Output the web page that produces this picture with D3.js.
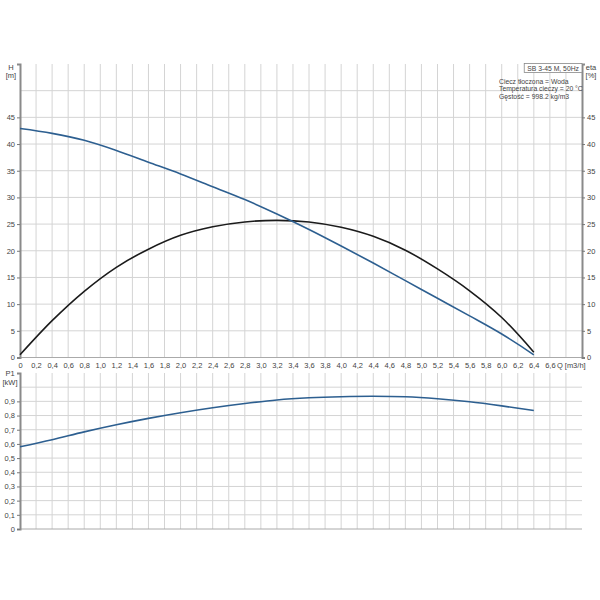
<!DOCTYPE html>
<html>
<head>
<meta charset="utf-8">
<script src="https://cdn.jsdelivr.net/npm/d3@7"></script>
<style>
  body { margin: 0; background: #fff; }
  svg { display: block; font-family: "Liberation Sans", Arial, sans-serif; }
  .grid line { stroke: #d4d4d4; stroke-width: 1; }
  .lbl { font-size: 7.5px; fill: #444; }
  .info { font-size: 6.8px; }
</style>
</head>
<body>
<svg id="chart" width="600" height="600"></svg>
<script>
// flow points [m3/h]
var qValues = [0, 0.4, 0.8, 1.2, 1.6, 2.0, 2.4, 2.8, 3.2, 3.6, 4.0, 4.4, 4.8, 5.2, 5.6, 6.0, 6.4];
// head H [m]
var headValues = [42.9, 42.0, 40.7, 38.8, 36.6, 34.4, 32.0, 29.6, 26.9, 24.0, 20.9, 17.7, 14.4, 11.1, 7.8, 4.4, 0.5];
// efficiency eta [%]
var etaValues = [0.5, 6.9, 12.4, 16.9, 20.3, 22.9, 24.5, 25.4, 25.7, 25.4, 24.4, 22.7, 20.1, 16.6, 12.5, 7.5, 1.0];
// power P1 [kW]
var powerValues = [0.58, 0.63, 0.685, 0.735, 0.78, 0.82, 0.855, 0.885, 0.91, 0.925, 0.933, 0.936, 0.932, 0.918, 0.897, 0.868, 0.835];

var qTicks = d3.range(0, 34).map(function(i){ return +(i * 0.2).toFixed(1); });
var hTicks = [0, 5, 10, 15, 20, 25, 30, 35, 40, 45];
var pTicks = [0, 0.1, 0.2, 0.3, 0.4, 0.5, 0.6, 0.7, 0.8, 0.9];

var infoLines = ['Ciecz tłoczona = Woda', 'Temperatura cieczy = 20 °C', 'Gęstość = 998.2 kg/m3'];
var pumpName = 'SB 3-45 M, 50Hz';

var svg = d3.select('#chart');
var left = 20, right = 582;
var x = d3.scaleLinear().domain([0, 7]).range([left, right]);
var yH = d3.scaleLinear().domain([0, 55]).range([357.5, 64]);
var yP = d3.scaleLinear().domain([0, 1.1]).range([529, 373]);

var fmt = function(d){ return String(d).replace('.', ','); };
var fmtQ = function(d){ return d === 0 ? '0' : d.toFixed(1).replace('.', ','); };
var gridX = d3.range(1, 35).map(function(i){ return i * 0.2; });

function panel(y, ymax, step) {
	var g = svg.append('g').attr('class', 'grid');
	g.selectAll('line.v').data(gridX).enter().append('line')
		.attr('x1', function(d){ return x(d); }).attr('x2', function(d){ return x(d); })
		.attr('y1', y.range()[1]).attr('y2', y.range()[0]);
	g.selectAll('line.h').data(d3.range(1, Math.round(ymax / step))).enter().append('line')
		.attr('x1', left).attr('x2', right)
		.attr('y1', function(d){ return y(d * step); }).attr('y2', function(d){ return y(d * step); });
	svg.append('line').attr('x1', left).attr('x2', right).attr('y1', y(0)).attr('y2', y(0))
		.attr('stroke', '#aaa');
}
panel(yH, 55, 5);
panel(yP, 1.1, 0.1);

// axes
var axL = svg.append('g').attr('transform', 'translate(' + left + ',0)')
	.call(d3.axisLeft(yH).tickValues(hTicks).tickSize(3).tickPadding(2).tickFormat(fmt));
var axR = svg.append('g').attr('transform', 'translate(' + right + ',0)')
	.call(d3.axisRight(yH).tickValues(hTicks).tickSize(3).tickPadding(2).tickFormat(fmt));
var axB = svg.append('g').attr('transform', 'translate(' + left + ',0)')
	.call(d3.axisLeft(yP).tickValues(pTicks).tickSize(3).tickPadding(2).tickFormat(fmt));
var axX = svg.append('g').attr('transform', 'translate(0,' + yH(0) + ')')
	.call(d3.axisBottom(x).tickValues(qTicks).tickSize(0).tickPadding(5).tickFormat(fmtQ));
axX.select('.domain').remove();

[axL, axR, axB].forEach(function(a){
	a.select('.domain').attr('stroke', '#8a8a8a').attr('stroke-width', 2);
	a.selectAll('.tick line').attr('stroke', '#777');
});
[axL, axR, axB, axX].forEach(function(a){
	a.selectAll('text').attr('class', 'lbl').attr('font-size', null).attr('font-family', null);
});

// unit labels
svg.append('text').attr('class', 'lbl').attr('x', 11).attr('y', 69.5).attr('text-anchor', 'middle').text('H');
svg.append('text').attr('class', 'lbl').attr('x', 11).attr('y', 77.5).attr('text-anchor', 'middle').text('[m]');
svg.append('text').attr('class', 'lbl').attr('x', 591).attr('y', 69.5).attr('text-anchor', 'middle').text('eta');
svg.append('text').attr('class', 'lbl').attr('x', 591).attr('y', 77.5).attr('text-anchor', 'middle').text('[%]');
svg.append('text').attr('class', 'lbl').attr('x', 10).attr('y', 375.5).attr('text-anchor', 'middle').text('P1');
svg.append('text').attr('class', 'lbl').attr('x', 10).attr('y', 384.5).attr('text-anchor', 'middle').text('[kW]');
svg.append('text').attr('class', 'lbl').attr('x', x(6.6) + 7).attr('y', yH(0) + 5).attr('dy', '0.71em')
	.text('Q [m3/h]');

// info box
var box = svg.append('g');
var boxRect = box.append('rect');
var nameText = box.append('text').attr('class', 'lbl info').attr('x', right - 3).attr('y', 70.5)
	.attr('text-anchor', 'end').text(pumpName);
var bb = nameText.node().getBBox();
boxRect.attr('x', bb.x - 3).attr('y', 63.5).attr('width', right - bb.x + 3).attr('height', 9)
	.attr('fill', '#fff').attr('stroke', '#888').attr('stroke-width', 0.8);
svg.selectAll('text.line').data(infoLines).enter().append('text')
	.attr('class', 'lbl info line').attr('x', 499).attr('y', function(d, i){ return 83.5 + i * 7.5; }).text(function(d){ return d; });

// curves
function curve(vals, y, color) {
	var line = d3.line().x(function(d, i){ return x(qValues[i]); }).y(function(d){ return y(d); })
		.curve(d3.curveCatmullRom.alpha(0.5));
	svg.append('path').datum(vals).attr('d', line).attr('fill', 'none')
		.attr('stroke', color).attr('stroke-width', 1.6);
}
curve(etaValues, yH, '#1b1b1b');
curve(headValues, yH, '#2d5f90');
curve(powerValues, yP, '#2d5f90');
</script>
</body>
</html>
